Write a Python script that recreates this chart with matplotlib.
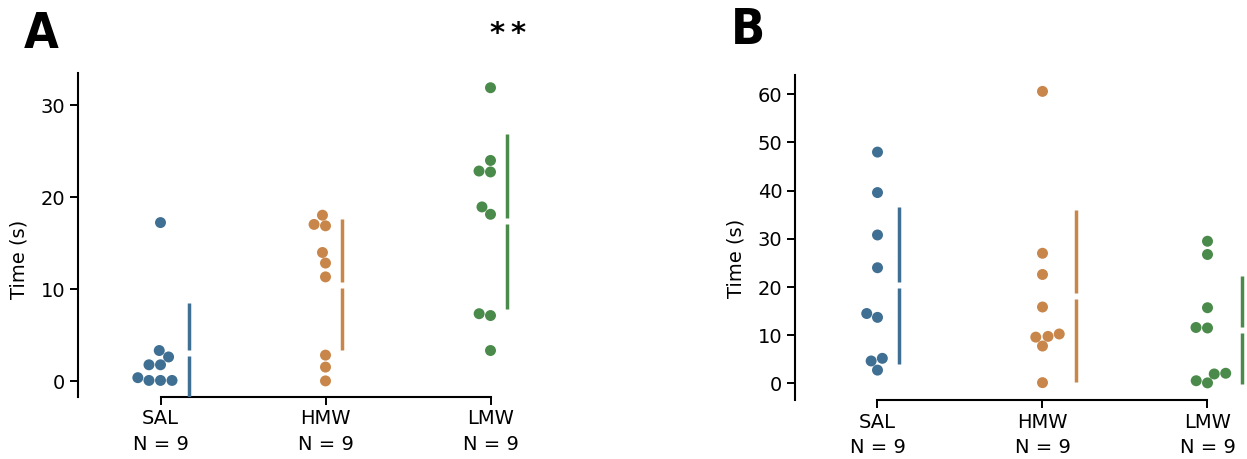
import numpy as np
import pandas as pd
import matplotlib
matplotlib.use("Agg")
import matplotlib.pyplot as plt
import seaborn as sns

# Groups and colours
groups = ["SAL", "HMW", "LMW"]
n_labels = ["N = 9", "N = 9", "N = 9"]
colors = ["#3f6f92", "#c8864b", "#4a8a4a"]

# Panel A: time (s)
time_a_sal = [0.1, 0.1, 0.1, 0.4, 1.8, 1.8, 2.65, 3.35, 17.25]
time_a_hmw = [0.05, 1.55, 2.85, 11.35, 12.85, 14.0, 16.9, 17.05, 18.05]
time_a_lmw = [3.35, 7.15, 7.35, 18.15, 18.95, 22.75, 22.85, 24.0, 31.9]

# Panel B: time (s)
time_b_sal = [2.75, 4.65, 5.2, 13.7, 14.5, 24.0, 30.8, 39.6, 48.0]
time_b_hmw = [0.15, 7.75, 9.6, 9.75, 10.25, 15.85, 22.6, 27.0, 60.6]
time_b_lmw = [0.1, 0.55, 1.95, 2.1, 11.5, 11.6, 15.7, 26.75, 29.5]

yticks_a = [0, 10, 20, 30]
yticks_b = [0, 10, 20, 30, 40, 50, 60]

W, H = 1247, 459
fig = plt.figure(figsize=(W / 100, H / 100), dpi=100)


def px_axes(left, top, right, bottom):
    return fig.add_axes([left / W, 1 - bottom / H, (right - left) / W, (bottom - top) / H])


ax_a = px_axes(78, 73, 573, 397)
ax_b = px_axes(795, 75, 1290, 400)


def swarm_panel(ax, series, ylim, yticks):
    df = pd.DataFrame({
        "group": np.repeat(groups, [len(s) for s in series]),
        "time": np.concatenate([np.asarray(s, float) for s in series]),
    })
    ax.set_ylim(*ylim)
    sns.swarmplot(data=df, x="group", y="time", hue="group", order=groups,
                  hue_order=groups, palette=colors, size=7.9, linewidth=0,
                  legend=False, ax=ax)
    ax.set_xlim(-0.5, 2.5)
    ax.set_ylim(*ylim)
    ax.set_yticks(yticks)
    ax.set_xticks(range(len(groups)))
    ax.set_xticklabels([f"{g}\n{n}" for g, n in zip(groups, n_labels)],
                       linespacing=1.45)
    ax.set_xlabel("")
    ax.set_ylabel("Time (s)", fontsize=14)
    for side in ("top", "right"):
        ax.spines[side].set_visible(False)
    for side in ("left", "bottom"):
        ax.spines[side].set_linewidth(1.5)
    ax.spines["bottom"].set_bounds(0, len(groups) - 1)
    ax.tick_params(labelsize=14, width=1.4, length=5.5)
    ax.grid(False)


swarm_panel(ax_a, [time_a_sal, time_a_hmw, time_a_lmw], (-1.7, 33.5), yticks_a)
swarm_panel(ax_b, [time_b_sal, time_b_hmw, time_b_lmw], (-3.45, 64.0), yticks_b)
ax_a.yaxis.set_label_coords(-0.101, 0.426)
ax_b.yaxis.set_label_coords(-0.101, 0.437)

fig.canvas.draw()


def mean_sd_bars(ax, series, offset_px=16.7, half_gap_px=3.0):
    """Gapped mean +/- SD line placed just right of each swarm."""
    to_disp = ax.transData
    to_data = ax.transData.inverted()
    for coll in ax.collections:
        pts = coll.get_offsets()
        if len(pts) == 0:
            continue
        idx = int(round(np.median(pts[:, 0])))
        vals = np.asarray(series[idx], float)
        m, sd = vals.mean(), vals.std(ddof=1)
        disp = to_disp.transform(np.column_stack([pts[:, 0], pts[:, 1]]))
        x_disp = disp[:, 0].max() + offset_px
        y_mean_disp = to_disp.transform((0, m))[1]
        x = to_data.transform((x_disp, y_mean_disp))[0]
        g_lo = to_data.transform((x_disp, y_mean_disp - half_gap_px))[1]
        g_hi = to_data.transform((x_disp, y_mean_disp + half_gap_px))[1]
        kw = dict(color=colors[idx], lw=2.5, solid_capstyle="butt", zorder=3)
        ax.plot([x, x], [m - sd, g_lo], **kw)
        ax.plot([x, x], [g_hi, m + sd], **kw)


mean_sd_bars(ax_a, [time_a_sal, time_a_hmw, time_a_lmw])
mean_sd_bars(ax_b, [time_b_sal, time_b_hmw, time_b_lmw])

panel_font = ["Liberation Sans Narrow", "DejaVu Sans"]
fig.text(24 / W, 1 - 10 / H, "A", fontsize=36, fontweight="bold",
         fontstretch="condensed", family=panel_font, ha="left", va="top")
fig.text(731 / W, 1 - 6 / H, "B", fontsize=36, fontweight="bold",
         fontstretch="condensed", family=panel_font, ha="left", va="top")
fig.text(508 / W, 1 - 34 / H, "*\u2009*", fontsize=21, fontweight="bold",
         ha="center", va="center")

fig.savefig("out.png", dpi=100)
